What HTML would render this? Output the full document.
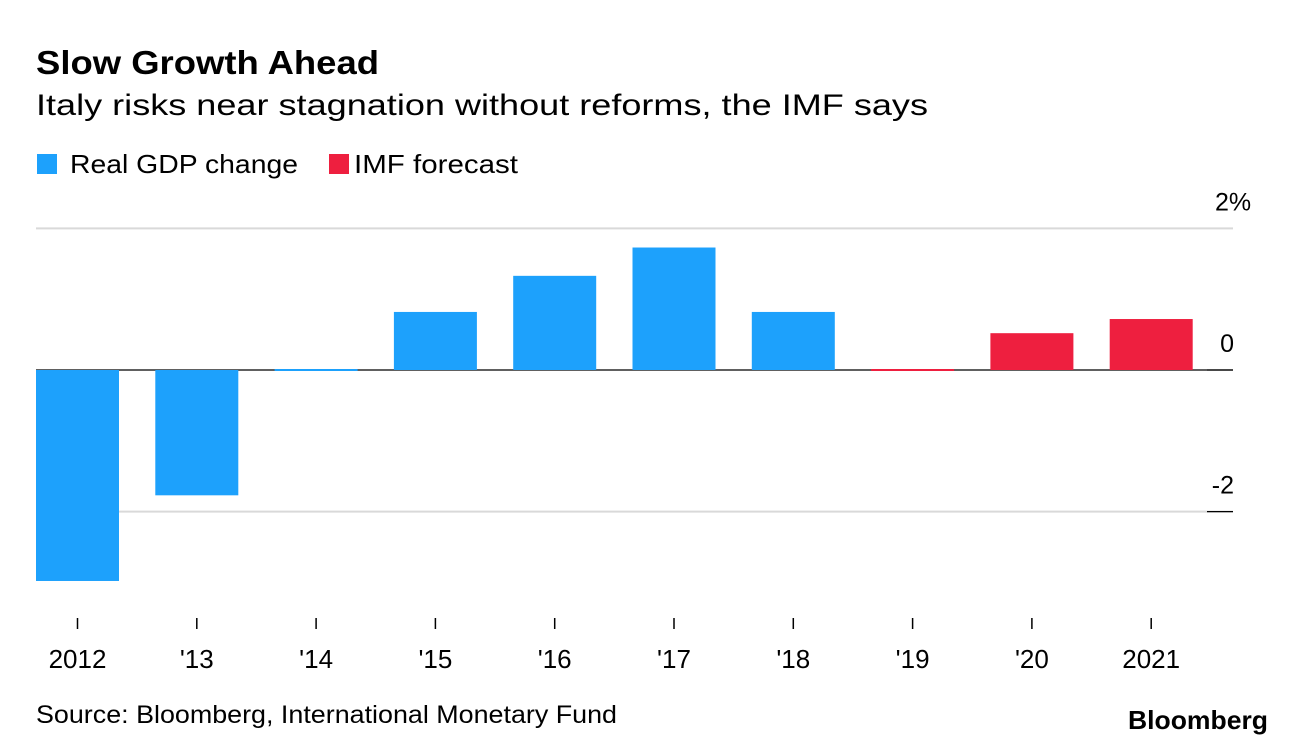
<!DOCTYPE html>
<html><head><meta charset="utf-8">
<style>
body{margin:0;background:#fff;font-family:"Liberation Sans",sans-serif;}
svg{display:block}
</style></head>
<body>
<svg id="c" width="1296" height="746">
<text x="36" y="74" font-size="33" font-weight="bold" fill="#000" textLength="343" lengthAdjust="spacingAndGlyphs">Slow Growth Ahead</text>
<text x="36" y="115" font-size="30" fill="#000" textLength="892" lengthAdjust="spacingAndGlyphs">Italy risks near stagnation without reforms, the IMF says</text>
<g>
<rect x="37" y="154" width="20" height="20" fill="#1da1fc"/>
<text x="70" y="173" font-size="26" fill="#000" textLength="228" lengthAdjust="spacingAndGlyphs">Real GDP change</text>
<rect x="329" y="154" width="20" height="20" fill="#ee1f3f"/>
<text x="354" y="173" font-size="26" fill="#000" textLength="164" lengthAdjust="spacingAndGlyphs">IMF forecast</text>
</g>
<g id="grid"></g><g id="bars"></g><g id="axes"></g>
<text x="36" y="723" font-size="25" fill="#000" textLength="581" lengthAdjust="spacingAndGlyphs">Source: Bloomberg, International Monetary Fund</text>
<text x="1128" y="729" font-size="26" font-weight="bold" fill="#000" textLength="140" lengthAdjust="spacingAndGlyphs">Bloomberg</text>
</svg>
<script>
const categories=["2012","'13","'14","'15","'16","'17","'18","'19","'20","2021"];
const values=[-2.98,-1.77,0,0.82,1.33,1.73,0.82,0,0.52,0.72];
const forecast=[false,false,false,false,false,false,false,true,true,true];
const yTicks=[2,0,-2];
const yTickLabels=["2%","0","-2"];
const NS="http://www.w3.org/2000/svg";
function y(v){return 370-v*70.8;}
function x(i){return 77.5+i*119.3;}
function mk(t,a,p){const e=document.createElementNS(NS,t);for(const k in a)e.setAttribute(k,a[k]);document.getElementById(p).appendChild(e);return e;}
yTicks.forEach((v,i)=>{
 const g=mk('line',{x1:36,x2:1233,y1:y(v),y2:y(v),stroke:v===0?'#000':'#d9d9d9','stroke-width':v===0?1.2:2},'grid');
 
 
 if(i>0){
 const tk=mk('line',{x1:1207,x2:1233,y1:y(v),y2:y(v),stroke:'#000','stroke-width':1.2},'axes');
 
 
 }
 const t=mk('text',i===0?{x:1215,y:y(v)-18,'font-size':25,fill:'#000'}:{x:1234,y:y(v)-18,'font-size':25,'text-anchor':'end',fill:'#000'},'axes');
 t.textContent=yTickLabels[i];
 
 
});
categories.forEach((c,i)=>{
 const v=values[i];let top=Math.min(y(v),370),h=Math.abs(y(v)-370);
 if(h<2){h=2;top=369;}
 const r=mk('rect',{x:x(i)-41.5,y:top,width:83,height:h,fill:forecast[i]?'#ee1f3f':'#1da1fc'},'bars');
 
 
 const tk=mk('line',{x1:x(i),x2:x(i),y1:618,y2:629,stroke:'#000','stroke-width':1.5},'axes');
 
 
 const t=mk('text',{x:x(i),y:668,'font-size':26,'text-anchor':'middle',fill:'#000'},'axes');
 t.textContent=c;
 
 
});
</script>
</body></html>
